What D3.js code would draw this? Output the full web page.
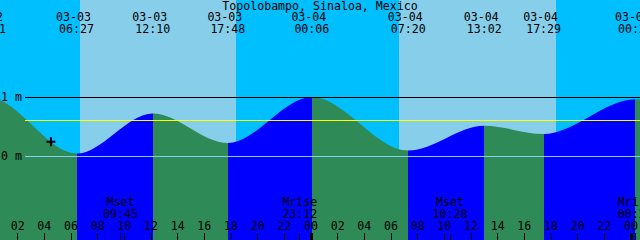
<!DOCTYPE html>
<html><head><meta charset="utf-8">
<script src="https://cdn.jsdelivr.net/npm/d3@7"></script>
<style>
html,body{margin:0;padding:0;background:#00BFFF;overflow:hidden}
svg{display:block}
text{font-family:"DejaVu Sans Mono",monospace;font-size:11.6px;fill:#000}
</style>
</head><body><svg id="c" width="640" height="240"></svg>
<script>
// ---- data ----
const title = "Topolobampo, Sinaloa, Mexico";
const tideDates   = ["03-02","03-02","03-03","03-03","03-03","03-04","03-04","03-04","03-04","03-05","03-05"];
const tideTimes   = ["17:20","23:51","06:27","12:10","17:48","00:06","07:20","13:02","17:29","00:22","07:30"];
const tideHeights = [0.30, 1.00, 0.05, 0.73, 0.23, 1.01, 0.10, 0.52, 0.38, 0.97, 0.10];
const sunriseDates = ["03-03","03-04"];
const sunriseTimes = ["06:42","06:38"];
const sunsetDates  = ["03-03","03-04"];
const sunsetTimes  = ["18:25","18:25"];
const moonDates  = ["03-03","03-03","03-04","03-05"];
const moonTimes  = ["09:45","23:12","10:28","00:21"];
const moonEvents = ["Mset","Mrise","Mset","Mrise"];
const hourTicks  = [2,4,6,8,10,12,14,16,18,20,22,24,26,28,30,32,34,36,38,40,42,44,46,48];
const hourLabels = ["02","04","06","08","10","12","14","16","18","20","22","00","02","04","06","08","10","12","14","16","18","20","22","00"];
const levelValues = [1, 0];
const levelLabels = ["1 m", "0 m"];
const levelColors = ["#000000", "#87CEEB"];
const meanLevel = 0.61;
const markTime = ["03-03","04:32"];
const markHeight = 0.25;

// ---- helpers ----
function toHours(date, time){
  const day = +date.slice(3);
  const [hh, mm] = time.split(":").map(Number);
  return (day - 3) * 24 + hh + mm / 60;
}
const W = 640, H = 240;
const x = d3.scaleLinear().domain([0.7125, 48.7125]).range([0, W]);
const y = d3.scaleLinear().domain([0, 1]).range([156.5, 97.5]);
const svg = d3.select("#c");

// ---- day / night background ----
svg.append("rect").attr("width", W).attr("height", H).attr("fill", "#00BFFF");
const days = sunriseDates.map((d, i) => ({ r: toHours(d, sunriseTimes[i]), s: toHours(sunsetDates[i], sunsetTimes[i]) }));
svg.selectAll("rect.day").data(days).join("rect").attr("class", "day")
  .attr("x", d => x(d.r)).attr("width", d => x(d.s) - x(d.r))
  .attr("y", 0).attr("height", H).attr("fill", "#87CEEB")
  .attr("shape-rendering", "crispEdges");

// ---- tide ----
const tide = tideDates.map((d, i) => ({ t: toHours(d, tideTimes[i]), h: tideHeights[i], date: d, time: tideTimes[i] }));
const area = d3.area().x(d => x(d.t)).y0(H).y1(d => y(d.h)).curve(d3.curveMonotoneX);
svg.append("clipPath").attr("id", "tideClip").append("path").attr("d", area(tide));
const segs = d3.pairs(tide);
svg.append("g").attr("clip-path", "url(#tideClip)")
  .selectAll("rect").data(segs).join("rect")
  .attr("x", d => x(d[0].t)).attr("width", d => x(d[1].t) - x(d[0].t))
  .attr("y", 0).attr("height", H)
  .attr("fill", d => d[1].h > d[0].h ? "#0000FF" : "#2E8B57")
  .attr("shape-rendering", "crispEdges");

// ---- level lines ----
svg.selectAll("line.lvl").data(levelValues).join("line").attr("class", "lvl")
  .attr("x1", 25).attr("x2", W).attr("y1", d => y(d)).attr("y2", d => y(d))
  .attr("stroke", (d, i) => levelColors[i]).attr("stroke-width", 1).attr("shape-rendering", "crispEdges");
svg.append("line").attr("x1", 25).attr("x2", W).attr("y1", y(meanLevel)).attr("y2", y(meanLevel))
  .attr("stroke", "#FFFF00").attr("stroke-width", 1).attr("shape-rendering", "crispEdges");
svg.selectAll("text.lvl").data(levelValues).join("text").attr("class", "lvl")
  .attr("x", 1).attr("y", d => y(d) + 3.5).text((d, i) => levelLabels[i]);

// ---- title and tide labels ----
svg.append("text").attr("x", W / 2).attr("y", 10).attr("text-anchor", "middle").text(title);
const lab = tide.filter(d => x(d.t) > -40 && x(d.t) < W + 40);
svg.selectAll("text.tdate").data(lab).join("text").attr("class", "tdate")
  .attr("x", d => x(d.t) - 3).attr("y", 21).attr("text-anchor", "middle").text(d => d.date);
svg.selectAll("text.ttime").data(lab).join("text").attr("class", "ttime")
  .attr("x", d => x(d.t)).attr("y", 33).attr("text-anchor", "middle").text(d => d.time);

// ---- moon ----
const moon = moonDates.map((d, i) => ({ t: toHours(d, moonTimes[i]), ev: moonEvents[i], time: moonTimes[i] }));
svg.selectAll("text.mev").data(moon).join("text").attr("class", "mev")
  .attr("x", d => x(d.t)).attr("y", 206).attr("text-anchor", "middle").text(d => d.ev);
svg.selectAll("text.mtime").data(moon).join("text").attr("class", "mtime")
  .attr("x", d => x(d.t)).attr("y", 217.5).attr("text-anchor", "middle").text(d => d.time);
svg.selectAll("line.mtick").data(moon).join("line").attr("class", "mtick")
  .attr("x1", d => x(d.t)).attr("x2", d => x(d.t)).attr("y1", 233).attr("y2", H)
  .attr("stroke", "#000").attr("shape-rendering", "crispEdges");

// ---- hour axis ----
const ax = svg.append("g").attr("transform", `translate(0,${H})`)
  .call(d3.axisTop(x).tickValues(hourTicks).tickFormat((d, i) => hourLabels[i]).tickSize(7).tickPadding(3.5));
ax.select(".domain").remove();
ax.selectAll(".tick line").attr("stroke", "#000").attr("shape-rendering", "crispEdges")
  .attr("stroke-width", d => d % 24 === 0 ? 3 : 1);

// ---- current-time mark ----
const mx = x(toHours(markTime[0], markTime[1])), my = y(markHeight);
svg.append("path").attr("d", `M${mx - 4.5},${my}H${mx + 4.5}M${mx},${my - 4.5}V${my + 4.5}`)
  .attr("stroke", "#000").attr("stroke-width", 2).attr("fill", "none");
</script>
</body></html>
